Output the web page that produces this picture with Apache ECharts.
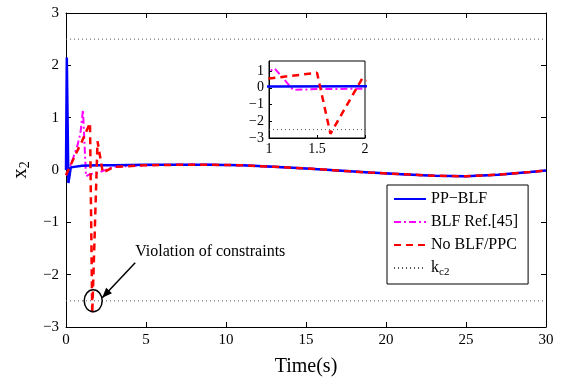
<!DOCTYPE html>
<html>
<head>
<meta charset="utf-8">
<script src="https://cdn.jsdelivr.net/npm/echarts@6/dist/echarts.min.js"></script>
<style>
  html, body { margin: 0; padding: 0; background: #fff; }
  #chart { width: 574px; height: 378px; }
</style>
</head>
<body>
<div id="chart"></div>
<script>
// time (s) / x2 pairs
const ppBlf = [[0,0],[0.05,2.15],[0.15,-0.25],[0.3,0.05],[1,0.08],[2,0.09],[3,0.09],[5,0.1],[7,0.1],[9,0.1],[11,0.09],[13,0.06],[15,0.03],[17,-0.01],[19,-0.05],[21,-0.08],[23,-0.11],[25,-0.12],[27,-0.09],[29,-0.04],[30,-0.01]]
const blfRef = [[0,-0.1],[0.3,0.1],[0.7,0.45],[0.9,0.7],[1.06,1.15],[1.25,-0.12],[1.5,-0.08],[2,-0.05],[3,0.06],[5,0.09],[7,0.1],[9,0.1],[11,0.09],[13,0.06],[15,0.03],[17,-0.01],[19,-0.05],[21,-0.08],[23,-0.11],[25,-0.12],[27,-0.09],[29,-0.04],[30,-0.01]]
const noBlf = [[0,-0.1],[0.3,0.1],[0.6,0.3],[1.0,0.55],[1.5,0.9],[1.64,-2.75],[1.97,0.55],[2.3,-0.05],[3,0.06],[5,0.09],[7,0.1],[9,0.1],[11,0.09],[13,0.06],[15,0.03],[17,-0.01],[19,-0.05],[21,-0.08],[23,-0.11],[25,-0.12],[27,-0.09],[29,-0.04],[30,-0.01]]
const kc2 = 2.5
const kc2Line = [[0,kc2],[30,kc2],'-',[0,-kc2],[30,-kc2]]
const xTicks = [0,5,10,15,20,25,30]
const yTicks = [-3,-2,-1,0,1,2,3]
const violationAt = [1.7, -2.5]

const font = 'Liberation Serif'
const minus = v => String(v).replace('-', '\u2212')

const chart = echarts.init(document.getElementById('chart'))

const lineSeries = (xi, yi) => [
    {
        name: 'PP\u2212BLF', type: 'line', xAxisIndex: xi, yAxisIndex: yi,
        data: ppBlf, symbol: 'none', z: 5,
        itemStyle: {color: '#0000ff'},
        lineStyle: {color: '#0000ff', width: 2.5}
    },
    {
        name: 'BLF Ref.[45]', type: 'line', xAxisIndex: xi, yAxisIndex: yi,
        data: blfRef, symbol: 'none', z: 4,
        itemStyle: {color: '#ff00ff'},
        lineStyle: {color: '#ff00ff', width: 2, type: [7,3,2,3]}
    },
    {
        name: 'No BLF/PPC', type: 'line', xAxisIndex: xi, yAxisIndex: yi,
        data: noBlf, symbol: 'none', z: 6,
        itemStyle: {color: '#ff0000'},
        lineStyle: {color: '#ff0000', width: 2.5, type: [7,5]}
    },
    {
        name: 'kc2', type: 'line', xAxisIndex: xi, yAxisIndex: yi,
        data: kc2Line, symbol: 'none', connectNulls: false, z: 3,
        itemStyle: {color: '#555'},
        lineStyle: {color: '#555', width: 1, type: [1,3]}
    }
]

const tickIn = {show: true, inside: true, length: 5, lineStyle: {color: '#000'}}
const axisLine = {show: true, onZero: false, lineStyle: {color: '#000', width: 1}}

chart.setOption({
    animation: false,
    textStyle: {fontFamily: font},
    grid: [
        {left: 66, top: 13, width: 480, height: 314, outerBoundsMode: 'none', containLabel: false},
        {left: 269, top: 61, width: 96, height: 77, outerBoundsMode: 'none', containLabel: false,
         show: true, borderColor: '#000', borderWidth: 1}
    ],
    xAxis: [
        {
            type: 'value', gridIndex: 0, min: xTicks[0], max: xTicks[xTicks.length-1], interval: 5,
            name: 'Time(s)', nameLocation: 'middle', nameGap: 30,
            nameTextStyle: {fontFamily: font, fontSize: 20, color: '#000'},
            axisLine, axisTick: tickIn, splitLine: {show: false},
            axisLabel: {fontFamily: font, fontSize: 15, color: '#000', margin: 6}
        },
        {
            type: 'value', gridIndex: 0, position: 'top', min: 0, max: 30, interval: 5,
            axisLine, axisTick: tickIn, splitLine: {show: false}, axisLabel: {show: false}
        },
        {
            type: 'value', gridIndex: 1, min: 1, max: 2, interval: 0.5,
            axisLine, axisTick: {show: true, inside: true, length: 3}, splitLine: {show: false},
            axisLabel: {fontFamily: font, fontSize: 14, color: '#000', margin: 4}
        }
    ],
    yAxis: [
        {
            type: 'value', gridIndex: 0, min: yTicks[0], max: yTicks[yTicks.length-1], interval: 1,
            name: '{a|x}{b|2}', nameLocation: 'middle', nameGap: 30, nameRotate: 90,
            nameTextStyle: {
                color: '#000',
                rich: {
                    a: {fontFamily: font, fontSize: 21, color: '#000'},
                    b: {fontFamily: font, fontSize: 14, color: '#000', padding: [10,0,0,0]}
                }
            },
            axisLine, axisTick: tickIn, splitLine: {show: false},
            axisLabel: {fontFamily: font, fontSize: 15, color: '#000', margin: 7, formatter: minus}
        },
        {
            type: 'value', gridIndex: 0, position: 'right', min: -3, max: 3, interval: 1,
            axisLine, axisTick: tickIn, splitLine: {show: false}, axisLabel: {show: false}
        },
        {
            type: 'value', gridIndex: 1, min: -3, max: 1.6, interval: 1,
            axisLine, axisTick: {show: true, inside: true, length: 3}, splitLine: {show: false},
            axisLabel: {fontFamily: font, fontSize: 14, color: '#000', margin: 5, formatter: minus}
        }
    ],
    legend: {
        orient: 'vertical',
        left: 387, top: 185,
        data: ['PP\u2212BLF', 'BLF Ref.[45]', 'No BLF/PPC', 'kc2'],
        itemWidth: 32, itemHeight: 14, itemGap: 7,
        padding: [6, 10, 6, 6],
        borderColor: '#000', borderWidth: 1, backgroundColor: '#fff',
        itemStyle: {opacity: 0},
        textStyle: {
            fontFamily: font, fontSize: 16, color: '#000',
            rich: {
                a: {fontFamily: font, fontSize: 16, color: '#000'},
                b: {fontFamily: font, fontSize: 11, color: '#000', padding: [9,0,0,0]}
            }
        },
        formatter: n => n === 'kc2' ? '{a|k}{b|c2}' : n
    },
    series: [...lineSeries(0, 0), ...lineSeries(2, 2)]
})

// annotation: circle + arrow + text around the violation point
const p = chart.convertToPixel({xAxisIndex: 0, yAxisIndex: 0}, violationAt)
const tail = [p[0] + 42, p[1] - 38]
const tip = [p[0] + 9, p[1] - 3]
const ang = Math.atan2(tip[1] - tail[1], tip[0] - tail[0])
const hl = 10, hw = 4
const head = [
    tip,
    [tip[0] - hl*Math.cos(ang) + hw*Math.sin(ang), tip[1] - hl*Math.sin(ang) - hw*Math.cos(ang)],
    [tip[0] - hl*Math.cos(ang) - hw*Math.sin(ang), tip[1] - hl*Math.sin(ang) + hw*Math.cos(ang)]
]
chart.setOption({
    graphic: [
        {type: 'ellipse', shape: {cx: p[0], cy: p[1], rx: 9, ry: 11}, style: {fill: 'none', stroke: '#000', lineWidth: 1.5}, z: 20},
        {type: 'line', shape: {x1: tail[0], y1: tail[1], x2: tip[0], y2: tip[1]}, style: {stroke: '#000', lineWidth: 1.5}, z: 20},
        {type: 'polygon', shape: {points: head}, style: {fill: '#000'}, z: 20},
        {type: 'text', left: p[0] + 42, top: p[1] - 57, style: {text: 'Violation of constraints', font: '16px "Liberation Serif"', fill: '#000'}, z: 20}
    ]
})
</script>
</body>
</html>
